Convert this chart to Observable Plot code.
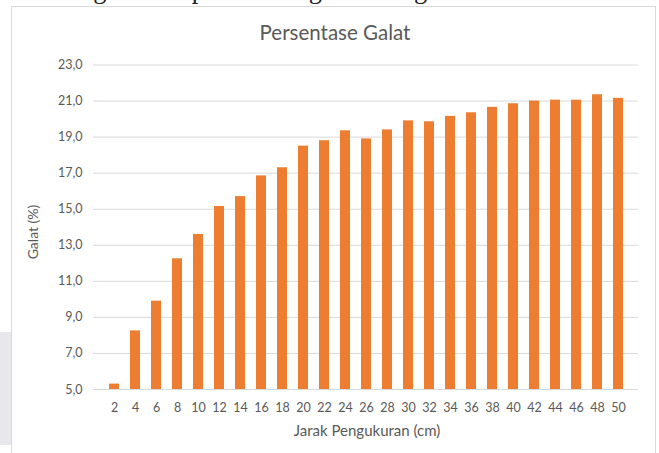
<!DOCTYPE html>
<html>
<head>
<meta charset="utf-8">
<script src="https://cdn.jsdelivr.net/npm/d3@7"></script>
<script src="https://cdn.jsdelivr.net/npm/@observablehq/plot@0.6"></script>
<style>
  html, body { margin: 0; padding: 0; background: #ffffff; }
  #wrap { position: relative; width: 659px; height: 453px; overflow: hidden; background: #ffffff; }
  #frame { position: absolute; left: 11px; top: 6px; width: 645px; height: 470px; border: 1px solid #d9d9d9; background: #ffffff; box-sizing: border-box; }
  #shade { position: absolute; left: 0; top: 332px; width: 11px; height: 113px; background: #e8e8ec; }
  #chart { position: absolute; left: 0; top: 0; }
</style>
</head>
<body>
<div id="wrap">
  <div id="frame"></div>
  <div id="shade"></div>
  <div id="chart"></div>
</div>
<script>
// Data
const distances = [2, 4, 6, 8, 10, 12, 14, 16, 18, 20, 22, 24, 26, 28, 30, 32, 34, 36, 38, 40, 42, 44, 46, 48, 50];
const galat = [5.3, 8.25, 9.9, 12.25, 13.6, 15.15, 15.7, 16.85, 17.3, 18.5, 18.8, 19.35, 18.9, 19.4, 19.9, 19.85, 20.15, 20.35, 20.65, 20.85, 21.0, 21.05, 21.05, 21.35, 21.15];
const yTicks = [5, 7, 9, 11, 13, 15, 17, 19, 21, 23];
const titleText = "Persentase Galat";
const xTitle = "Jarak Pengukuran (cm)";
const yTitle = "Galat (%)";
const topLine = "dengan nilai persentase galat sebagai berikut";

const rows = distances.map((d, i) => ({d, v: galat[i]}));
const base = yTicks[0];

const svg = Plot.plot({
  width: 659,
  height: 453,
  marginLeft: 93,
  marginRight: 21,
  marginTop: 64.5,
  marginBottom: 64,
  style: {background: "transparent", fontFamily: "Lato, sans-serif", fontSize: "12.5px", color: "#595959"},
  x: {type: "band", domain: distances, paddingInner: 0.54, paddingOuter: 0.27, label: null, tickSize: 0, tickPadding: 14},
  y: {domain: [yTicks[0], yTicks[yTicks.length - 1]], ticks: yTicks, tickFormat: d => d.toFixed(1).replace(".", ","), label: null, tickSize: 0, tickPadding: 11},
  marks: [
    Plot.ruleY(yTicks, {stroke: "#d9d9d9", strokeWidth: 1}),
    Plot.barY(rows, {x: "d", y1: base, y2: "v", fill: "#ED7D31"})
  ]
});

const s = d3.select(svg);
s.append("text")
  .attr("x", 55).attr("y", -2)
  .attr("text-anchor", "start")
  .attr("font-family", "'Liberation Serif', serif")
  .attr("font-size", 26.5)
  .attr("fill", "#222")
  .text(topLine);
s.append("text")
  .attr("x", 335).attr("y", 40)
  .attr("text-anchor", "middle")
  .attr("font-family", "Lato, sans-serif")
  .attr("font-size", 20.5)
  .attr("fill", "#595959")
  .text(titleText);
s.append("text")
  .attr("x", 367).attr("y", 436)
  .attr("text-anchor", "middle")
  .attr("font-family", "Lato, sans-serif")
  .attr("font-size", 15)
  .attr("fill", "#595959")
  .text(xTitle);
s.append("text")
  .attr("transform", "translate(38,232) rotate(-90)")
  .attr("text-anchor", "middle")
  .attr("font-family", "Lato, sans-serif")
  .attr("font-size", 14)
  .attr("fill", "#595959")
  .text(yTitle);

document.getElementById("chart").appendChild(svg);
</script>
</body>
</html>
